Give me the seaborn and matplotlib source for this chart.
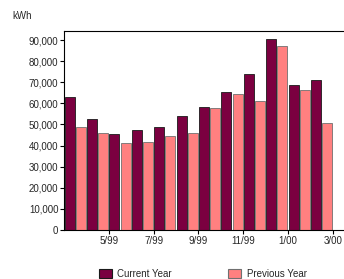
import matplotlib
matplotlib.use('Agg')
import matplotlib.pyplot as plt
import pandas as pd
import seaborn as sns
from matplotlib.patches import Patch
from matplotlib.ticker import FuncFormatter

# monthly usage, 4/99 .. 3/00
months = ['4/99', '5/99', '6/99', '7/99', '8/99', '9/99',
          '10/99', '11/99', '12/99', '1/00', '2/00', '3/00']
current_year = [63000, 52400, 45500, 47400, 49000, 53800,
                58400, 65500, 73700, 90300, 68700, 70900]
previous_year = [49000, 46100, 41200, 41700, 44500, 46100,
                 57600, 64300, 61100, 87000, 66500, 50500]
tick_labels = ['5/99', '7/99', '9/99', '11/99', '1/00', '3/00']

df = pd.DataFrame({
    'month': months * 2,
    'kwh': current_year + previous_year,
    'series': ['Current Year'] * len(months) + ['Previous Year'] * len(months),
})

sns.set_style('white')
plt.rcParams['font.family'] = ['Liberation Sans', 'DejaVu Sans']

colors = {'Current Year': '#7b0040', 'Previous Year': '#ff8080'}
edges = {'Current Year': '#1a1a1a', 'Previous Year': '#707070'}

fig = plt.figure(figsize=(3.44, 2.79), dpi=100)
ax = fig.add_axes([64 / 344, 49 / 279, 280 / 344, 199 / 279])

sns.barplot(data=df, x='month', y='kwh', hue='series', order=months,
            palette=colors, saturation=1, width=1.0, edgecolor='#1a1a1a',
            linewidth=0.6, legend=False, ax=ax)

# even ~1px gaps between every bar, grey outline on previous-year bars
bw = 0.45
for k, bar in enumerate(ax.patches):
    mid = bar.get_x() + bar.get_width() / 2
    bar.set_x(mid - bw / 2)
    bar.set_width(bw)
    if k >= len(months):
        bar.set_edgecolor(edges['Previous Year'])

ax.set_xlim(-0.5, 12.0)
ax.set_ylim(0, 94300)
ax.set_yticks(range(0, 90001, 10000))
ax.yaxis.set_major_formatter(FuncFormatter(lambda v, p: '{:,.0f}'.format(v)))

# ticks sit at the end of each labelled month
pos = [months.index(m) + 0.5 for m in tick_labels]
ax.set_xticks(pos)
ax.set_xticklabels(tick_labels)
ax.set_xlabel('')
ax.set_ylabel('')

ax.tick_params(axis='both', which='both', direction='out', length=3, width=0.8,
               color='black', labelsize=7, pad=1, left=True, bottom=True)
for side in ['left', 'bottom', 'top']:
    ax.spines[side].set_color('black')
    ax.spines[side].set_linewidth(0.8)
ax.spines['right'].set_visible(False)

fig.text(12 / 344, 1 - 16 / 279, 'kWh', fontsize=7, va='center', ha='left')

handles = [Patch(facecolor=colors[k], edgecolor=edges[k], linewidth=0.8)
           for k in ['Current Year', 'Previous Year']]
fig.legend(handles, ['Current Year', 'Previous Year'], ncol=2, frameon=False,
           loc='lower center', bbox_to_anchor=(0.59, -0.03), fontsize=7,
           handlelength=1.3, handleheight=1.1, columnspacing=5.8, handletextpad=0.6)

fig.savefig('out.png', dpi=100)
